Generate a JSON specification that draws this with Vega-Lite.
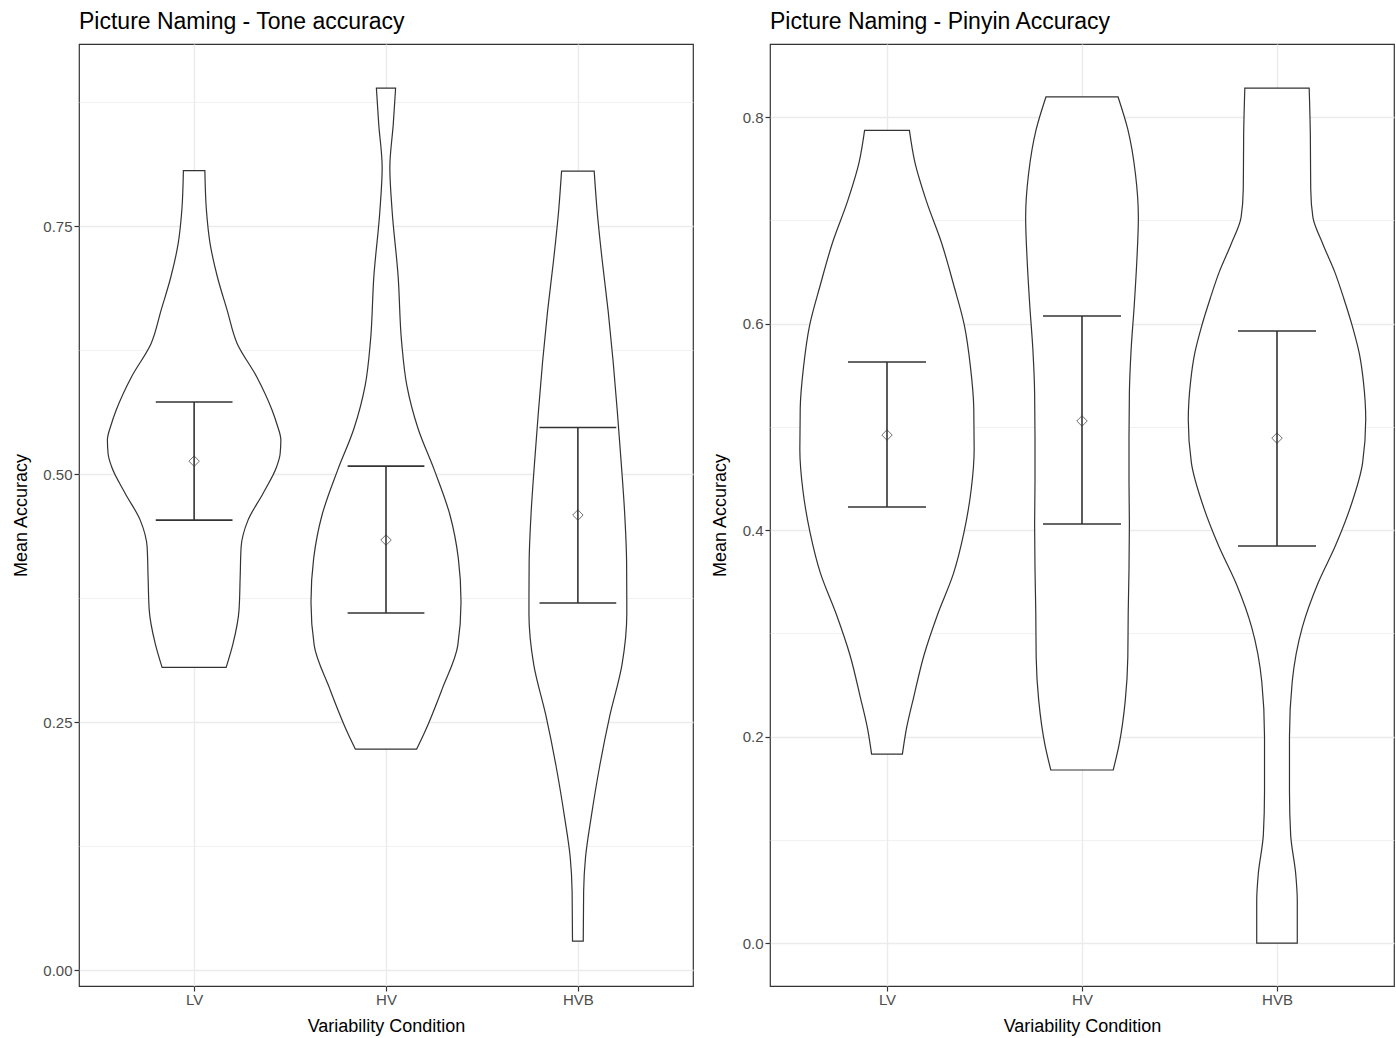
{
  "$schema": "https://vega.github.io/schema/vega-lite/v6.json",
  "padding": {"left": 11, "top": 10, "right": 2, "bottom": 5},
  "spacing": 16,
  "config": {
    "font": "Liberation Sans",
    "view": {"stroke": "#333333", "strokeWidth": 1.2},
    "axis": {
      "domain": false,
      "tickColor": "#333333",
      "tickSize": 5,
      "tickWidth": 1.2,
      "labelColor": "#4d4d4d",
      "labelFontSize": 15,
      "labelFont": "Liberation Sans",
      "labelPadding": 2,
      "titleFont": "Liberation Sans",
      "titleFontSize": 18,
      "titleFontWeight": "normal",
      "titleColor": "#000000",
      "gridColor": "#ebebeb",
      "gridWidth": 1.4
    },
    "axisX": {"labelPadding": 1, "titlePadding": 10},
    "title": {"anchor": "start", "frame": "group", "fontSize": 23, "fontWeight": "normal", "color": "#000000", "font": "Liberation Sans", "offset": 10}
  },
  "datasets": {
    "tone_violin": [
      {"cond": "LV", "acc": 0.3051, "w": 0.167},
      {"cond": "LV", "acc": 0.3293, "w": 0.203},
      {"cond": "LV", "acc": 0.3629, "w": 0.234},
      {"cond": "LV", "acc": 0.3965, "w": 0.240},
      {"cond": "LV", "acc": 0.4267, "w": 0.245},
      {"cond": "LV", "acc": 0.4536, "w": 0.281},
      {"cond": "LV", "acc": 0.4805, "w": 0.359},
      {"cond": "LV", "acc": 0.5074, "w": 0.430},
      {"cond": "LV", "acc": 0.5200, "w": 0.448},
      {"cond": "LV", "acc": 0.5343, "w": 0.452},
      {"cond": "LV", "acc": 0.5500, "w": 0.432},
      {"cond": "LV", "acc": 0.5645, "w": 0.406},
      {"cond": "LV", "acc": 0.5981, "w": 0.326},
      {"cond": "LV", "acc": 0.6317, "w": 0.224},
      {"cond": "LV", "acc": 0.6653, "w": 0.172},
      {"cond": "LV", "acc": 0.6989, "w": 0.121},
      {"cond": "LV", "acc": 0.7325, "w": 0.083},
      {"cond": "LV", "acc": 0.7661, "w": 0.064},
      {"cond": "LV", "acc": 0.8058, "w": 0.056},
      {"cond": "HV", "acc": 0.2228, "w": 0.160},
      {"cond": "HV", "acc": 0.240, "w": 0.202},
      {"cond": "HV", "acc": 0.284, "w": 0.294},
      {"cond": "HV", "acc": 0.327, "w": 0.374},
      {"cond": "HV", "acc": 0.371, "w": 0.391},
      {"cond": "HV", "acc": 0.415, "w": 0.377},
      {"cond": "HV", "acc": 0.459, "w": 0.333},
      {"cond": "HV", "acc": 0.503, "w": 0.254},
      {"cond": "HV", "acc": 0.546, "w": 0.167},
      {"cond": "HV", "acc": 0.590, "w": 0.108},
      {"cond": "HV", "acc": 0.634, "w": 0.081},
      {"cond": "HV", "acc": 0.700, "w": 0.063},
      {"cond": "HV", "acc": 0.765, "w": 0.032},
      {"cond": "HV", "acc": 0.809, "w": 0.020},
      {"cond": "HV", "acc": 0.853, "w": 0.038},
      {"cond": "HV", "acc": 0.889, "w": 0.050},
      {"cond": "HVB", "acc": 0.0292, "w": 0.028},
      {"cond": "HVB", "acc": 0.079, "w": 0.030},
      {"cond": "HVB", "acc": 0.114, "w": 0.040},
      {"cond": "HVB", "acc": 0.155, "w": 0.070},
      {"cond": "HVB", "acc": 0.206, "w": 0.114},
      {"cond": "HVB", "acc": 0.257, "w": 0.167},
      {"cond": "HVB", "acc": 0.308, "w": 0.230},
      {"cond": "HVB", "acc": 0.359, "w": 0.255},
      {"cond": "HVB", "acc": 0.410, "w": 0.254},
      {"cond": "HVB", "acc": 0.460, "w": 0.244},
      {"cond": "HVB", "acc": 0.511, "w": 0.226},
      {"cond": "HVB", "acc": 0.562, "w": 0.206},
      {"cond": "HVB", "acc": 0.613, "w": 0.184},
      {"cond": "HVB", "acc": 0.664, "w": 0.158},
      {"cond": "HVB", "acc": 0.715, "w": 0.127},
      {"cond": "HVB", "acc": 0.766, "w": 0.100},
      {"cond": "HVB", "acc": 0.8054, "w": 0.085}
    ],
    "pinyin_violin": [
      {"cond": "LV", "acc": 0.183, "w": 0.079},
      {"cond": "LV", "acc": 0.207, "w": 0.099},
      {"cond": "LV", "acc": 0.239, "w": 0.138},
      {"cond": "LV", "acc": 0.279, "w": 0.190},
      {"cond": "LV", "acc": 0.318, "w": 0.259},
      {"cond": "LV", "acc": 0.358, "w": 0.341},
      {"cond": "LV", "acc": 0.398, "w": 0.395},
      {"cond": "LV", "acc": 0.438, "w": 0.431},
      {"cond": "LV", "acc": 0.478, "w": 0.447},
      {"cond": "LV", "acc": 0.518, "w": 0.445},
      {"cond": "LV", "acc": 0.558, "w": 0.428},
      {"cond": "LV", "acc": 0.598, "w": 0.397},
      {"cond": "LV", "acc": 0.638, "w": 0.341},
      {"cond": "LV", "acc": 0.678, "w": 0.280},
      {"cond": "LV", "acc": 0.718, "w": 0.203},
      {"cond": "LV", "acc": 0.757, "w": 0.142},
      {"cond": "LV", "acc": 0.787, "w": 0.115},
      {"cond": "HV", "acc": 0.1676, "w": 0.160},
      {"cond": "HV", "acc": 0.193, "w": 0.191},
      {"cond": "HV", "acc": 0.235, "w": 0.222},
      {"cond": "HV", "acc": 0.277, "w": 0.235},
      {"cond": "HV", "acc": 0.320, "w": 0.237},
      {"cond": "HV", "acc": 0.362, "w": 0.241},
      {"cond": "HV", "acc": 0.405, "w": 0.243},
      {"cond": "HV", "acc": 0.448, "w": 0.241},
      {"cond": "HV", "acc": 0.490, "w": 0.241},
      {"cond": "HV", "acc": 0.533, "w": 0.243},
      {"cond": "HV", "acc": 0.575, "w": 0.252},
      {"cond": "HV", "acc": 0.618, "w": 0.268},
      {"cond": "HV", "acc": 0.660, "w": 0.281},
      {"cond": "HV", "acc": 0.703, "w": 0.289},
      {"cond": "HV", "acc": 0.745, "w": 0.274},
      {"cond": "HV", "acc": 0.788, "w": 0.235},
      {"cond": "HV", "acc": 0.8194, "w": 0.185},
      {"cond": "HVB", "acc": 0.000, "w": 0.104},
      {"cond": "HVB", "acc": 0.041, "w": 0.104},
      {"cond": "HVB", "acc": 0.067, "w": 0.096},
      {"cond": "HVB", "acc": 0.105, "w": 0.070},
      {"cond": "HVB", "acc": 0.147, "w": 0.064},
      {"cond": "HVB", "acc": 0.200, "w": 0.064},
      {"cond": "HVB", "acc": 0.253, "w": 0.078},
      {"cond": "HVB", "acc": 0.306, "w": 0.130},
      {"cond": "HVB", "acc": 0.348, "w": 0.209},
      {"cond": "HVB", "acc": 0.385, "w": 0.300},
      {"cond": "HVB", "acc": 0.423, "w": 0.378},
      {"cond": "HVB", "acc": 0.465, "w": 0.439},
      {"cond": "HVB", "acc": 0.507, "w": 0.455},
      {"cond": "HVB", "acc": 0.544, "w": 0.443},
      {"cond": "HVB", "acc": 0.571, "w": 0.422},
      {"cond": "HVB", "acc": 0.597, "w": 0.387},
      {"cond": "HVB", "acc": 0.624, "w": 0.343},
      {"cond": "HVB", "acc": 0.650, "w": 0.296},
      {"cond": "HVB", "acc": 0.677, "w": 0.235},
      {"cond": "HVB", "acc": 0.703, "w": 0.184},
      {"cond": "HVB", "acc": 0.730, "w": 0.173},
      {"cond": "HVB", "acc": 0.783, "w": 0.171},
      {"cond": "HVB", "acc": 0.828, "w": 0.165}
    ],
    "tone_stats": [
      {"cond": "LV", "mean": 0.513, "lo": 0.4536, "hi": 0.5726},
      {"cond": "HV", "mean": 0.4335, "lo": 0.360, "hi": 0.508},
      {"cond": "HVB", "mean": 0.4587, "lo": 0.370, "hi": 0.547}
    ],
    "pinyin_stats": [
      {"cond": "LV", "mean": 0.492, "lo": 0.4223, "hi": 0.5627},
      {"cond": "HV", "mean": 0.5056, "lo": 0.4058, "hi": 0.6073},
      {"cond": "HVB", "mean": 0.489, "lo": 0.3845, "hi": 0.5927}
    ]
  },
  "hconcat": [
    {
      "title": {"text": "Picture Naming - Tone accuracy"},
      "width": 614,
      "height": 942,
      "layer": [
        {
          "data": {"name": "tone_violin"},
          "transform": [
            {"calculate": "indexof(['LV','HV','HVB'], datum.cond) + 1", "as": "pos"},
            {"calculate": "datum.pos - datum.w", "as": "xl"},
            {"calculate": "datum.pos + datum.w", "as": "xr"}
          ],
          "mark": {"type": "area", "orient": "horizontal", "interpolate": "monotone", "fill": "white", "stroke": "#333333", "strokeWidth": 1.2},
          "encoding": {
            "y": {
              "field": "acc", "type": "quantitative", "title": "Mean Accuracy",
              "scale": {"domain": [-0.016, 0.9335], "nice": false, "zero": false},
              "axis": {
                "values": [0, 0.125, 0.25, 0.375, 0.5, 0.625, 0.75, 0.875],
                "labelExpr": "round(datum.value*8) % 2 == 1 ? '' : format(datum.value, '.2f')",
                "tickOpacity": {"condition": {"test": "round(datum.value*8) % 2 == 1", "value": 0}, "value": 1},
                "gridWidth": {"condition": {"test": "round(datum.value*8) % 2 == 1", "value": 0.7}, "value": 1.4},
                "minExtent": 36, "maxExtent": 36, "titlePadding": 13
              }
            },
            "x": {
              "field": "xl", "type": "quantitative", "title": "Variability Condition", "stack": null,
              "scale": {"domain": [0.4, 3.6], "nice": false, "zero": false},
              "axis": {"values": [1, 2, 3], "labelExpr": "['', 'LV', 'HV', 'HVB'][datum.value]"}
            },
            "x2": {"field": "xr"},
            "detail": {"field": "cond"}
          }
        },
        {
          "data": {"name": "tone_stats"},
          "transform": [{"calculate": "indexof(['LV','HV','HVB'], datum.cond) + 1", "as": "pos"}],
          "mark": {"type": "rule", "color": "#333333", "strokeWidth": 1.6},
          "encoding": {
            "x": {"field": "pos", "type": "quantitative", "title": "Variability Condition"},
            "y": {"field": "lo", "type": "quantitative", "title": "Mean Accuracy"},
            "y2": {"field": "hi"}
          }
        },
        {
          "data": {"name": "tone_stats"},
          "transform": [
            {"calculate": "indexof(['LV','HV','HVB'], datum.cond) + 1", "as": "pos"},
            {"calculate": "datum.pos - 0.2", "as": "cl"},
            {"calculate": "datum.pos + 0.2", "as": "cr"},
            {"fold": ["lo", "hi"], "as": ["end", "val"]}
          ],
          "mark": {"type": "rule", "color": "#333333", "strokeWidth": 1.6},
          "encoding": {
            "x": {"field": "cl", "type": "quantitative", "title": "Variability Condition"},
            "x2": {"field": "cr"},
            "y": {"field": "val", "type": "quantitative", "title": "Mean Accuracy"}
          }
        },
        {
          "data": {"name": "tone_stats"},
          "transform": [{"calculate": "indexof(['LV','HV','HVB'], datum.cond) + 1", "as": "pos"}],
          "mark": {"type": "point", "shape": "diamond", "filled": false, "stroke": "#333333", "strokeWidth": 1, "size": 110},
          "encoding": {
            "x": {"field": "pos", "type": "quantitative", "title": "Variability Condition"},
            "y": {"field": "mean", "type": "quantitative", "title": "Mean Accuracy"}
          }
        }
      ]
    },
    {
      "title": {"text": "Picture Naming - Pinyin Accuracy"},
      "width": 624,
      "height": 942,
      "layer": [
        {
          "data": {"name": "pinyin_violin"},
          "transform": [
            {"calculate": "indexof(['LV','HV','HVB'], datum.cond) + 1", "as": "pos"},
            {"calculate": "datum.pos - datum.w", "as": "xl"},
            {"calculate": "datum.pos + datum.w", "as": "xr"}
          ],
          "mark": {"type": "area", "orient": "horizontal", "interpolate": "monotone", "fill": "white", "stroke": "#333333", "strokeWidth": 1.2},
          "encoding": {
            "y": {
              "field": "acc", "type": "quantitative", "title": "Mean Accuracy",
              "scale": {"domain": [-0.0416, 0.8707], "nice": false, "zero": false},
              "axis": {
                "values": [0, 0.1, 0.2, 0.3, 0.4, 0.5, 0.6, 0.7, 0.8],
                "labelExpr": "round(datum.value*10) % 2 == 1 ? '' : format(datum.value, '.1f')",
                "tickOpacity": {"condition": {"test": "round(datum.value*10) % 2 == 1", "value": 0}, "value": 1},
                "gridWidth": {"condition": {"test": "round(datum.value*10) % 2 == 1", "value": 0.7}, "value": 1.4},
                "minExtent": 28, "maxExtent": 28, "titlePadding": 13
              }
            },
            "x": {
              "field": "xl", "type": "quantitative", "title": "Variability Condition", "stack": null,
              "scale": {"domain": [0.4, 3.6], "nice": false, "zero": false},
              "axis": {"values": [1, 2, 3], "labelExpr": "['', 'LV', 'HV', 'HVB'][datum.value]"}
            },
            "x2": {"field": "xr"},
            "detail": {"field": "cond"}
          }
        },
        {
          "data": {"name": "pinyin_stats"},
          "transform": [{"calculate": "indexof(['LV','HV','HVB'], datum.cond) + 1", "as": "pos"}],
          "mark": {"type": "rule", "color": "#333333", "strokeWidth": 1.6},
          "encoding": {
            "x": {"field": "pos", "type": "quantitative", "title": "Variability Condition"},
            "y": {"field": "lo", "type": "quantitative", "title": "Mean Accuracy"},
            "y2": {"field": "hi"}
          }
        },
        {
          "data": {"name": "pinyin_stats"},
          "transform": [
            {"calculate": "indexof(['LV','HV','HVB'], datum.cond) + 1", "as": "pos"},
            {"calculate": "datum.pos - 0.2", "as": "cl"},
            {"calculate": "datum.pos + 0.2", "as": "cr"},
            {"fold": ["lo", "hi"], "as": ["end", "val"]}
          ],
          "mark": {"type": "rule", "color": "#333333", "strokeWidth": 1.6},
          "encoding": {
            "x": {"field": "cl", "type": "quantitative", "title": "Variability Condition"},
            "x2": {"field": "cr"},
            "y": {"field": "val", "type": "quantitative", "title": "Mean Accuracy"}
          }
        },
        {
          "data": {"name": "pinyin_stats"},
          "transform": [{"calculate": "indexof(['LV','HV','HVB'], datum.cond) + 1", "as": "pos"}],
          "mark": {"type": "point", "shape": "diamond", "filled": false, "stroke": "#333333", "strokeWidth": 1, "size": 110},
          "encoding": {
            "x": {"field": "pos", "type": "quantitative", "title": "Variability Condition"},
            "y": {"field": "mean", "type": "quantitative", "title": "Mean Accuracy"}
          }
        }
      ]
    }
  ]
}
